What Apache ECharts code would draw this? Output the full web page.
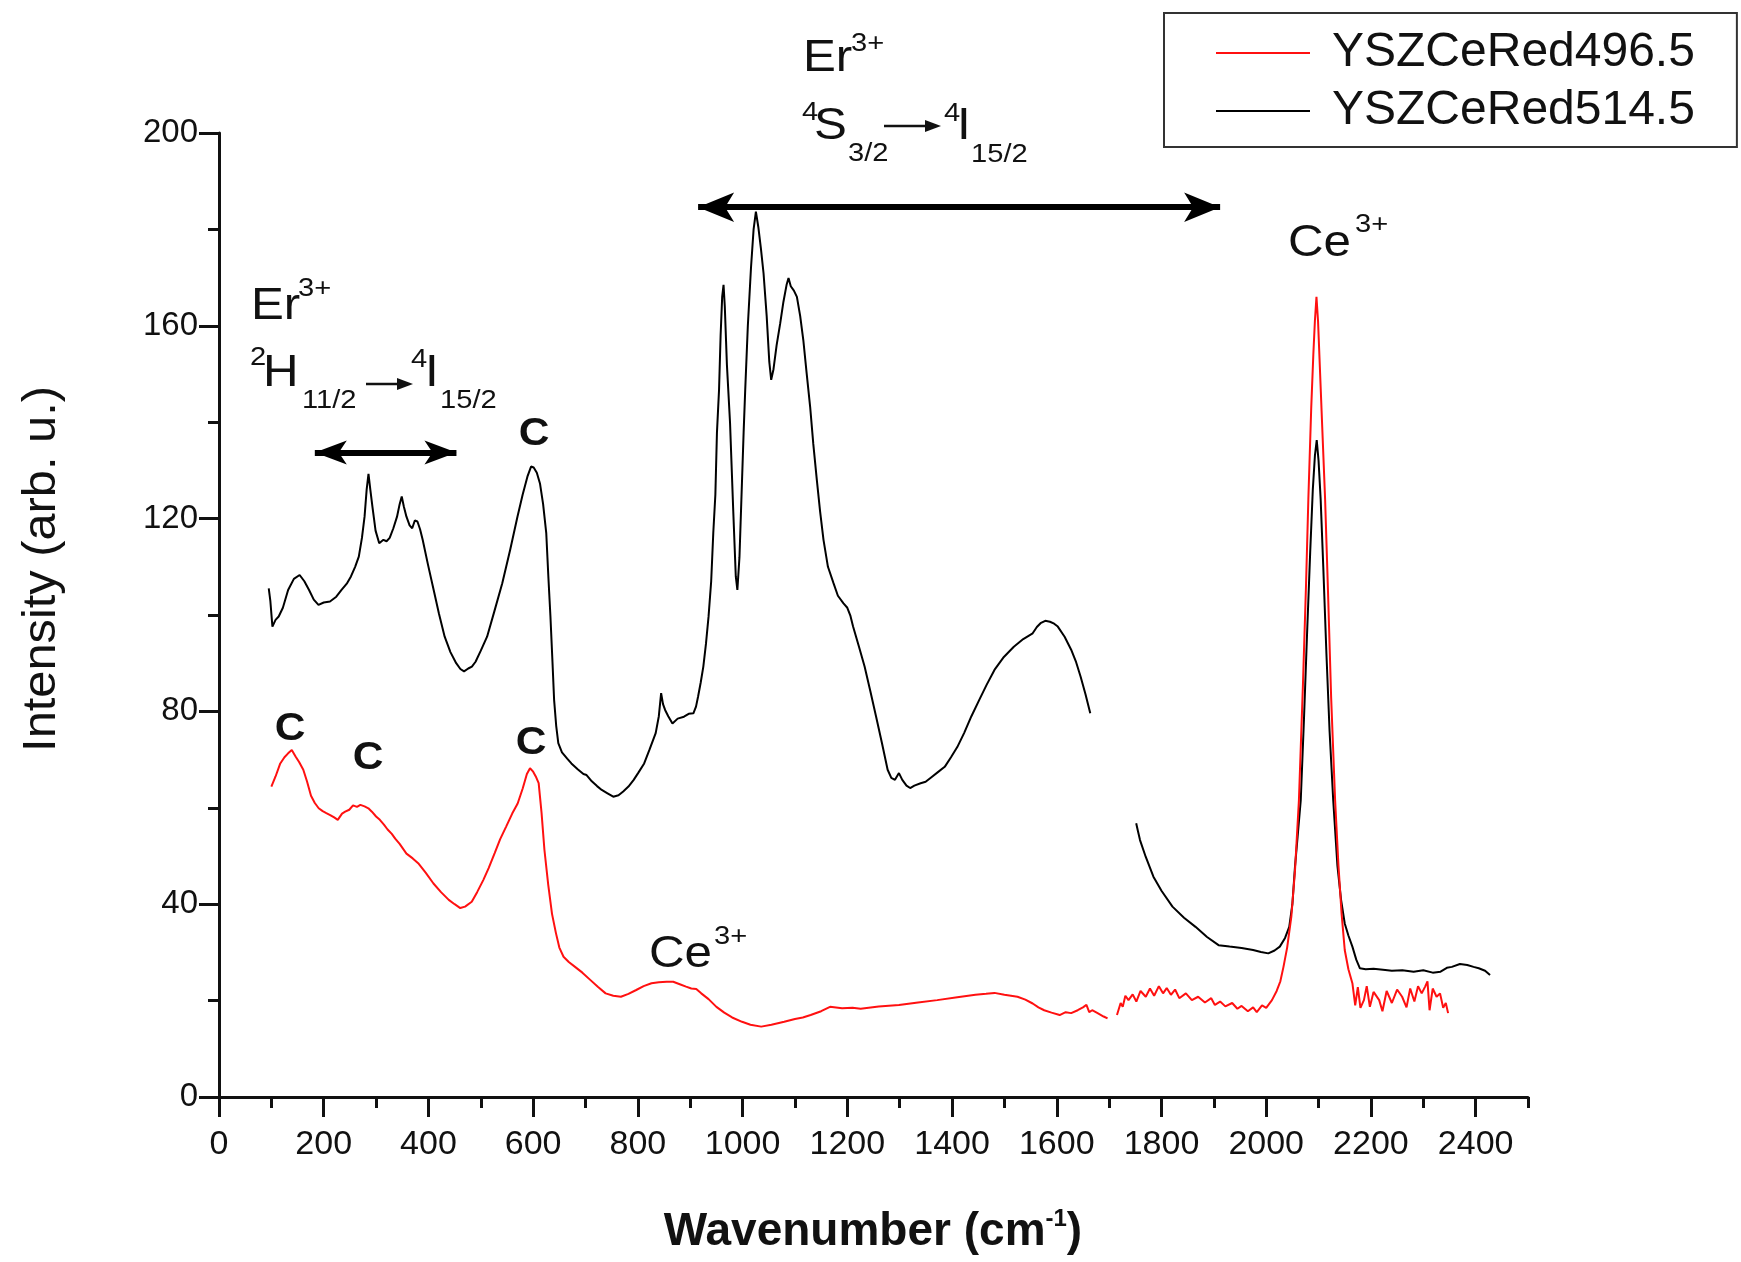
<!DOCTYPE html>
<html>
<head>
<meta charset="utf-8">
<script src="https://cdn.jsdelivr.net/npm/echarts@6/dist/echarts.min.js"></script>
<style>
html,body{margin:0;padding:0;background:#fff;}
#chart{width:1741px;height:1262px;}
</style>
</head>
<body>
<div id="chart"></div>
<script>
// ---------- DATA ----------
const xMajorTicks = [0, 200, 400, 600, 800, 1000, 1200, 1400, 1600, 1800, 2000, 2200, 2400];
const yMajorTicks = [0, 40, 80, 120, 160, 200];
const seriesNames = ['YSZCeRed496.5', 'YSZCeRed514.5'];

// YSZCeRed496.5 (red), first segment
const red496Seg1X = [100,108,117,125,132,139,146.5,153,161,168,175.7,183,190.4,198,205,212.3,220,226.8,235,241,248.8,256,263.5,270,278,285.3,292,300,307.2,315,322,330,336.5,345,358,370,380.4,395,409.6,424,438.8,450,460.8,470,482.7,493,504.7,515,526.5,537,548.4,560,570.4,580,588,594,600,605,610.5,616,621.5,628.8,636,643.5,650,658,668,680,694,709,724,738.4,753,767.6,782,796.8,811,826,840,855,867.5,880,892,902,911.5,921,935,950,965,980,999,1015,1035.5,1055,1079.5,1100,1115,1130,1150,1167,1190,1210,1225.5,1260,1298.6,1335,1371.6,1410,1444.7,1465,1481,1500,1525,1540,1554,1565,1576,1590,1605.5,1617,1627.5,1640,1650,1656.7,1662,1667.6,1678,1689.5,1697];
const red496Seg1Y = [64.4,66.5,69.2,70.5,71.3,72,70.6,69.5,67.9,65.5,62.5,61,59.9,59.3,58.9,58.5,58,57.5,58.8,59.2,59.6,60.5,60.2,60.6,60.3,59.9,59.2,58.2,57.5,56.5,55.5,54.6,53.6,52.5,50.5,49.5,48.5,46.5,44.3,42.5,40.9,40,39.2,39.5,40.5,42.5,45,47.5,50.6,53.5,56.1,58.8,60.9,64,67,68.2,67.5,66.5,65.1,59,51.3,44,38,34,31,29.1,28,27,25.8,24.3,22.8,21.5,21,20.8,21.4,22.2,23,23.6,23.8,23.9,23.9,23.4,22.9,22.5,22.4,21.5,20.3,18.7,17.5,16.5,15.6,15,14.6,15,15.6,16.2,16.5,17,17.8,18.7,18.4,18.5,18.3,18.8,19.1,19.6,20.1,20.7,21.2,21.4,21.6,21.2,20.8,20.2,19.4,18.6,18,17.5,17,17.6,17.4,18,18.6,19.1,17.6,18,17.4,16.7,16.3];
// YSZCeRed496.5 (red), second segment
const red496Seg2X = [1715,1718.7,1722,1726,1731,1737,1745,1752,1760,1770,1778,1786,1795,1803,1810,1818,1826,1834,1846.6,1858,1870,1883,1895,1902,1912,1922,1935,1945,1953,1965,1975,1982,1992,2000,2011,2020,2027,2033,2040,2048,2055,2062.5,2070,2076,2080.5,2086,2090,2093,2096,2099,2103,2107,2112.5,2118,2124,2131.6,2138,2144,2150,2157,2164.6,2170,2175,2180,2186.6,2192,2198,2205,2215.8,2222,2230,2240,2250,2259.6,2268,2275,2283,2290,2297,2303.5,2308,2312,2318,2325.4,2332,2338,2343,2347.4];
const red496Seg2Y = [17,16.7,19.5,18.7,21,20.1,21.3,19.8,22,20.8,22.5,21,23,21.5,22.6,21.2,22.3,20.5,21.5,20.1,20.8,19.6,20.5,19.1,19.8,18.8,19.5,18.3,18.9,17.8,18.6,17.6,19,18.5,20.1,22,24,27,31,37.4,47,61.6,85,106,124,143,154,161,166,161,150,139,124,105,83,61.6,48,38,30.5,26.5,23.6,19,22.8,18.5,20.1,23,18.7,21.8,20.1,17.8,22,19.5,22.3,20.8,18.6,22.5,19.8,23,21.5,22.9,24,18,22.5,20.8,21.5,18.5,19.5,17.4];

// YSZCeRed514.5 (black), first segment
const black514Seg1X = [95,98,102,108,114,122,132,143,154,163,172,181,190,200,212,224,234,244,252,260,267,273,278,282,285.5,289,293,299,306,314,320,326,333,340,345,349,353,358,364,369,374,379,384,389,399,410,420,431,442,453,461,468,476,483,490,500,512,526,541,556,570,580,589,596,601,607,613,619,625,629,633,637,640,644,648,655,665,673,685,696,702,712,722,731,742,753,763,772,782,792,801,812,822,834,840,844.4,848,852,858,866,876,888,897,906,911,915,920,925,930,935,940,944,948,951,955,958,961,963.6,966,970,976,982,987,990,994,998,1002,1005,1010,1016,1021,1025.4,1030,1035,1040,1046,1051,1054.6,1059,1065,1071.8,1078,1084,1087.7,1092,1098,1103.7,1110,1116,1122,1129,1135,1141.8,1148,1154.5,1163,1173.6,1182,1192.7,1200,1206,1211,1222,1233,1244,1255,1266,1277,1284,1291,1298.6,1305,1313,1320,1328,1340,1349.6,1360,1373,1386,1398,1410,1423,1437,1452,1466,1481,1499,1518,1536,1554,1562,1569,1578,1587,1595,1602,1615,1627.5,1637,1645.6,1655,1664];
const black514Seg1Y = [105.5,103,97.6,99,99.7,101.5,105.2,107.5,108.3,107,105.2,103.2,102.1,102.6,102.8,103.8,105.2,106.5,108,110,112.1,116,120.4,126,129.3,126,122.5,117.5,114.9,115.6,115.3,116,118,120.4,123,124.6,122.5,120.4,118.6,118,119.6,119.4,117.8,115.6,110.5,105.2,100.3,95.5,92.3,90,88.8,88.3,88.9,89.3,90.3,92.6,95.5,100.8,106.6,113.5,120.4,125,128.7,130.8,130.6,129.5,127.3,123,117,108,99.7,90,82.4,77,73.4,71.5,70.2,69.2,68,67,66.8,65.5,64.5,63.7,63,62.3,62.6,63.4,64.4,65.8,67.3,69.2,72,75.5,79,83.8,81.5,80.3,79,77.5,78.5,78.9,79.5,79.6,81,83.1,86,89.3,94,99.7,107,117,125,137.8,146.7,158,166,168.5,164,152,139.9,122,108,105.2,112,125,138,146.7,160,172,180,183.7,180.5,176,170.9,162,152.5,148.8,151,156,160.5,165,168.5,169.9,168.2,167.3,166,162,157,150.5,143.2,135.5,128,121.5,115.6,110,106.6,104,102.4,101.5,99.8,97.6,93.5,89.3,84.2,78.9,73.5,67.9,66.2,65.8,67.2,65.8,64.6,64.1,64.6,65.1,65.4,66.3,67.4,68.5,70.5,72.6,75.5,79,82.4,85.5,88.6,91.3,93.4,95,96.2,97.5,98.3,98.8,98.6,98.2,97.6,95.5,92.8,90.2,87.2,83.5,79.6];
// YSZCeRed514.5 (black), second segment
const black514Seg2X = [1751.7,1755,1759,1770,1784.6,1800,1821,1843,1865,1887,1909,1930,1953,1975,1990,2004,2016,2026,2036,2044,2050,2055,2060,2066,2072,2078,2084,2089,2093,2096.5,2100,2104,2109,2115,2121,2128,2136,2143,2150,2157,2164.6,2172,2179,2190,2205,2223,2240,2260,2281.6,2300,2318,2333,2345,2354.6,2370,2384,2396,2406,2418,2427.5];
const black514Seg2Y = [56.8,55.2,53.3,49.8,45.7,42.8,39.5,37.2,35.3,33.2,31.5,31.2,30.9,30.5,30.1,29.8,30.4,31.2,33,35.3,40,47.8,54,61.6,78,96,113,126,133,136.3,132,124,110,92,76,61.6,48,40.9,36,33.5,31.2,28.5,26.7,26.5,26.6,26.4,26.2,26.3,26,26.3,25.8,26,26.8,27,27.6,27.4,27,26.7,26.2,25.3];

// double-arrow extents (data coordinates, tip to tip)
const arrowS32 = {x0: 915, x1: 1912, y: 184.6};
const arrowH112 = {x0: 183, x1: 453.5, y: 133.7};

// ---------- BUILD ----------
function joinSegments(segs) {
  const out = [];
  segs.forEach((s, k) => {
    if (k > 0) out.push([(s[0][0] + out[out.length - 1][0]) / 2, null]);
    for (let i = 0; i < s[0].length; i++) out.push([s[0][i], s[1][i]]);
  });
  return out;
}
const redData = joinSegments([[red496Seg1X, red496Seg1Y], [red496Seg2X, red496Seg2Y]]);
const blackData = joinSegments([[black514Seg1X, black514Seg1Y], [black514Seg2X, black514Seg2Y]]);
function arrowLine(a) { return [[{coord: [a.x0, a.y]}, {coord: [a.x1, a.y]}]]; }

const FONT = '"Liberation Sans", Arial, Helvetica, sans-serif';
const chart = echarts.init(document.getElementById('chart'), null, {renderer: 'canvas'});

const SX = 1.12; // reference glyphs are slightly wider than Liberation Sans
function t(x, y, text, size, extra) {
  return {
    type: 'text', x: x, y: y, scaleX: SX, silent: true,
    style: Object.assign({text: text, fontSize: size, fontFamily: FONT, fill: '#111',
      align: 'left', verticalAlign: 'middle'}, extra || {})
  };
}
function arrowGlyph(x0, x1, y) {
  return [
    {type: 'line', silent: true, shape: {x1: x0, y1: y, x2: x1 - 10, y2: y}, style: {stroke: '#111', lineWidth: 2.5}},
    {type: 'polygon', silent: true, shape: {points: [[x1, y], [x1 - 16, y - 6], [x1 - 16, y + 6]]}, style: {fill: '#111'}}
  ];
}

const graphics = [].concat(
  // Top Er3+ 4S3/2 -> 4I15/2
  [t(803, 59, 'Er', 44), t(851, 44, '3+', 26),
   t(802, 113, '4', 26), t(814, 127, 'S', 44), t(848, 154, '3/2', 26)],
  arrowGlyph(884, 941, 126),
  [t(944, 114, '4', 26), t(957, 127, 'I', 44), t(971, 155, '15/2', 26)],
  // Left Er3+ 2H11/2 -> 4I15/2
  [t(251, 307, 'Er', 44), t(298, 289, '3+', 26),
   t(250, 358, '2', 26), t(263, 374, 'H', 44), t(302, 401, '11/2', 26)],
  arrowGlyph(366, 413, 384),
  [t(411, 360, '4', 26), t(425, 374, 'I', 44), t(440, 401, '15/2', 26)],
  // C labels
  [t(534, 435, 'C', 38, {fontWeight: 'bold', align: 'center'}),
   t(290, 730, 'C', 38, {fontWeight: 'bold', align: 'center'}),
   t(368, 759, 'C', 38, {fontWeight: 'bold', align: 'center'}),
   t(531, 744, 'C', 38, {fontWeight: 'bold', align: 'center'})],
  // Ce3+ labels
  [t(649, 955, 'Ce', 44), t(714, 937, '3+', 26),
   t(1288, 244, 'Ce', 44), t(1355, 225, '3+', 26)],
  // axis titles
  [{type: 'text', x: 42, y: 569, rotation: Math.PI / 2, scaleX: 1.06, silent: true,
    style: {text: 'Intensity (arb. u.)', fontSize: 46, fontFamily: FONT, fill: '#111', align: 'center', verticalAlign: 'middle'}},
   {type: 'text', x: 873, y: 1232, silent: true,
    style: {text: '{b|Wavenumber (cm}{s|-1}{b|)}', align: 'center', verticalAlign: 'middle',
      rich: {b: {fontSize: 46, fontWeight: 'bold', fontFamily: FONT, fill: '#111', lineHeight: 50},
             s: {fontSize: 24, fontWeight: 'bold', fontFamily: FONT, fill: '#111', verticalAlign: 'top', lineHeight: 24}}}}]
);

const axisLineStyle = {color: '#111', width: 3};
const option = {
  animation: false,
  backgroundColor: '#ffffff',
  grid: {left: 219, right: 213, top: 133, bottom: 165, containLabel: false},
  legend: {
    data: seriesNames, orient: 'vertical', left: 1164, top: 13, icon: 'rect',
    padding: [15, 42, 11, 52], itemGap: 8, itemWidth: 94, itemHeight: 2,
    borderColor: '#333', borderWidth: 2, borderRadius: 0,
    textStyle: {fontSize: 48, fontFamily: FONT, color: '#111', lineHeight: 50, padding: [0, 0, 0, 17]}
  },
  xAxis: [{
    type: 'value', min: 0, max: 2500, interval: 200, position: 'bottom',
    axisLine: {show: true, lineStyle: axisLineStyle, onZero: false},
    axisTick: {show: true, length: 20, inside: false, lineStyle: {color: '#111', width: 3}, customValues: xMajorTicks},
    axisLabel: {fontSize: 34, fontFamily: FONT, color: '#111', margin: 31, customValues: xMajorTicks,
      formatter: function (v) { return String(v); }},
    splitLine: {show: false}
  }, {
    type: 'value', min: 0, max: 2500, interval: 100, position: 'bottom', offset: 0,
    axisLine: {show: false},
    axisTick: {show: true, length: 11, inside: false, lineStyle: {color: '#111', width: 3}},
    axisLabel: {show: false}, splitLine: {show: false}
  }],
  yAxis: {
    type: 'value', min: 0, max: 200, interval: 40,
    axisLine: {show: true, lineStyle: axisLineStyle},
    axisTick: {show: true, length: 20, lineStyle: {color: '#111', width: 3}},
    minorTick: {show: true, splitNumber: 2, length: 11, lineStyle: {color: '#111', width: 3}},
    axisLabel: {fontSize: 33, fontFamily: FONT, color: '#111', margin: 21,
      formatter: function (v) { return String(v); }},
    splitLine: {show: false}
  },
  series: [{
    name: seriesNames[1], type: 'line', xAxisIndex: 0, data: blackData, showSymbol: false, symbol: 'none',
    connectNulls: false, lineStyle: {color: '#000', width: 2}, itemStyle: {color: '#000'},
    markLine: {
      silent: true, symbol: ['arrow', 'arrow'], symbolSize: [22, 36],
      label: {show: false}, lineStyle: {color: '#000', width: 6, type: 'solid'},
      emphasis: {disabled: true},
      data: arrowLine(arrowS32)
    }
  }, {
    name: 'arrowH', type: 'line', xAxisIndex: 0, data: [], showSymbol: false,
    markLine: {
      silent: true, symbol: ['arrow', 'arrow'], symbolSize: [18, 32],
      label: {show: false}, lineStyle: {color: '#000', width: 6, type: 'solid'},
      emphasis: {disabled: true},
      data: arrowLine(arrowH112)
    }
  }, {
    name: seriesNames[0], type: 'line', xAxisIndex: 0, data: redData, showSymbol: false, symbol: 'none',
    connectNulls: false, lineStyle: {color: '#ff1010', width: 2}, itemStyle: {color: '#ff1010'}
  }],
  graphic: graphics
};
chart.setOption(option);
</script>
</body>
</html>
